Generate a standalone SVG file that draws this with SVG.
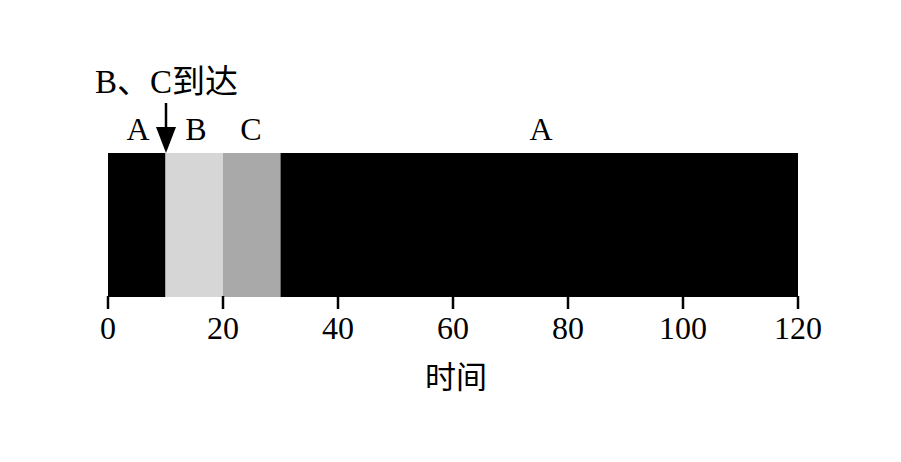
<svg xmlns="http://www.w3.org/2000/svg" width="901" height="462" viewBox="0 0 901 462">
<style>
.t{font-family:"Liberation Serif","Noto Sans CJK SC",serif;fill:#000}
.lab{font-size:32px;text-anchor:middle}
.tick{stroke:#000;stroke-width:2.5}
</style>
<rect width="901" height="462" fill="#fff"/>
<g id="bars">
<rect id="barA1" x="108" y="153" width="57.5" height="144" fill="#000"/>
<rect id="barB" x="165.5" y="153" width="57.5" height="144" fill="#d6d6d6"/>
<rect id="barC" x="223" y="153" width="57.5" height="144" fill="#a9a9a9"/>
<rect id="barA2" x="280.5" y="153" width="517.5" height="144" fill="#000"/>
</g>
<g id="axis">
<line class="tick" x1="108" y1="296" x2="108" y2="309"/>
<line class="tick" x1="223" y1="296" x2="223" y2="309"/>
<line class="tick" x1="338" y1="296" x2="338" y2="309"/>
<line class="tick" x1="453" y1="296" x2="453" y2="309"/>
<line class="tick" x1="568" y1="296" x2="568" y2="309"/>
<line class="tick" x1="683" y1="296" x2="683" y2="309"/>
<line class="tick" x1="798" y1="296" x2="798" y2="309"/>
<text class="t lab" x="108" y="339">0</text>
<text class="t lab" x="223" y="339">20</text>
<text class="t lab" x="338" y="339">40</text>
<text class="t lab" x="453" y="339">60</text>
<text class="t lab" x="568" y="339">80</text>
<text class="t lab" x="683" y="339">100</text>
<text class="t lab" x="798" y="339">120</text>
<text class="t" x="456" y="388" font-size="31" text-anchor="middle">时间</text>
</g>
<g id="labels">
<text class="t lab" x="138" y="140">A</text>
<text class="t lab" x="196" y="140">B</text>
<text class="t lab" x="251" y="140">C</text>
<text class="t lab" x="541" y="140">A</text>
</g>
<g id="connectors">
<line x1="166" y1="103" x2="166" y2="130" stroke="#000" stroke-width="2.5"/>
<polygon points="156,127 176,127 166,153" fill="#000"/>
</g>
<g id="arrival">
<text class="t" x="95" y="93" font-size="33">B、C到达</text>
</g>
</svg>
